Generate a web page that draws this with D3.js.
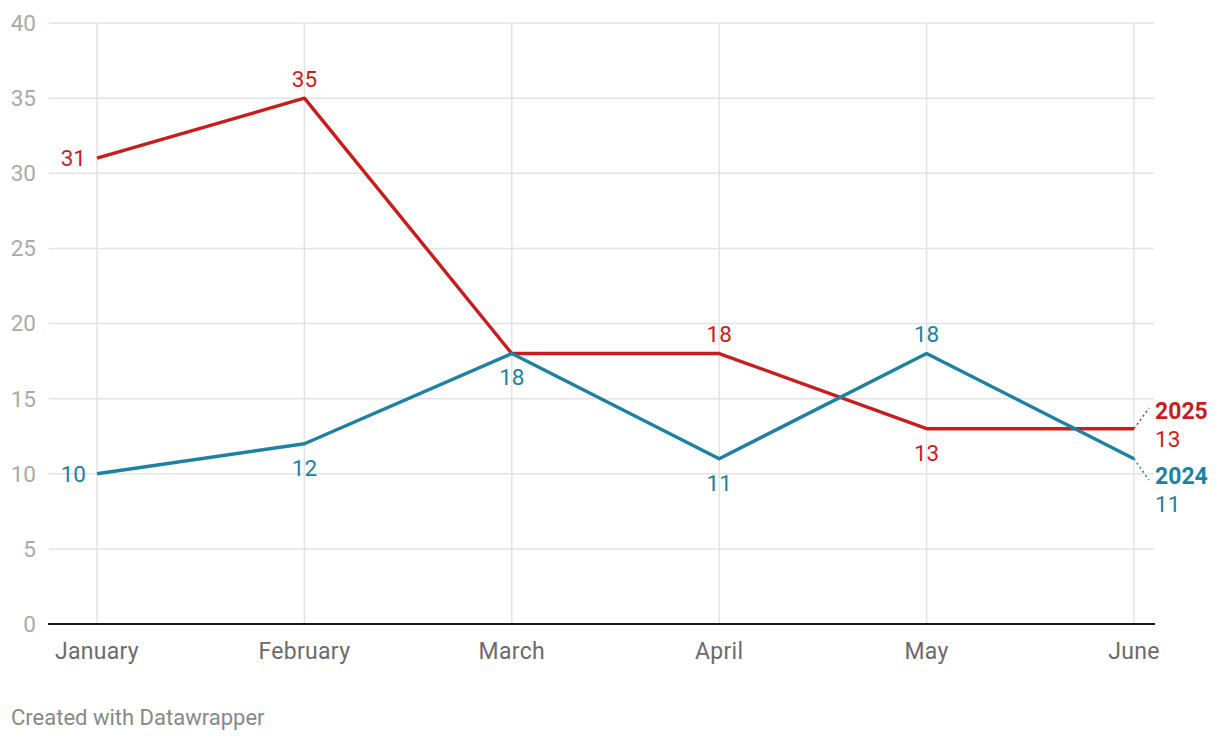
<!DOCTYPE html>
<html><head><meta charset="utf-8">
<script src="https://cdn.jsdelivr.net/npm/d3@7"></script>
<style>
body{margin:0;background:#fff;font-family:Roboto,"Noto Sans",sans-serif;}
</style></head>
<body><svg id="c" width="1220" height="740"></svg>
<script>
const months = ["January","February","March","April","May","June"];
const values2025 = [31,35,18,18,13,13];
const values2024 = [10,12,18,11,18,11];
const yTicks = [0,5,10,15,20,25,30,35,40];
// label placement per point: "l" left, "t" top, "b" bottom, null none
const pos2025 = ["l","t",null,"t","b",null];
const pos2024 = ["l","b","b","b","t",null];

const svg = d3.select("#c");
const x = d3.scalePoint().domain(months).range([97,1134]);
const y = d3.scaleLinear().domain([0,40]).range([624,23]);
const red = "#c71e1d", blue = "#1d81a2";

// horizontal grid
svg.append("g").selectAll("line").data(yTicks.filter(d=>d>0)).join("line")
  .attr("x1",49).attr("x2",1154).attr("y1",d=>y(d)).attr("y2",d=>y(d))
  .attr("stroke","#e3e3e3").attr("stroke-width",1.5);
// vertical grid
svg.append("g").selectAll("line").data(months).join("line")
  .attr("x1",d=>x(d)).attr("x2",d=>x(d)).attr("y1",y(40)).attr("y2",y(0))
  .attr("stroke","#e3e3e3").attr("stroke-width",1.5);
// y labels
svg.append("g").selectAll("text").data(yTicks).join("text")
  .attr("x",36).attr("y",d=>y(d)).attr("dy","0.35em").attr("text-anchor","end")
  .attr("font-size",22.5).attr("fill","#aaaaaa").text(d=>d);
// baseline
svg.append("line").attr("x1",48).attr("x2",1155).attr("y1",y(0)).attr("y2",y(0))
  .attr("stroke","#1a1a1a").attr("stroke-width",2);
// x labels
svg.append("g").selectAll("text").data(months).join("text")
  .attr("x",d=>x(d)).attr("y",651).attr("dy","0.35em").attr("text-anchor","middle")
  .attr("font-size",23).attr("letter-spacing","0.3px").attr("fill","#6b6b6b").text(d=>d);

const line = d3.line().x((d,i)=>x(months[i])).y(d=>y(d));
function series(vals,color,posArr){
  svg.append("path").datum(vals).attr("d",line).attr("fill","none")
    .attr("stroke",color).attr("stroke-width",3.4).attr("stroke-linejoin","round");
  vals.forEach((v,i)=>{
    const p = posArr[i]; if(!p) return;
    const t = svg.append("text").attr("fill",color).attr("font-size",22.5).attr("dy","0.35em").text(v);
    if(p==="l") t.attr("x",x(months[i])-11).attr("y",y(v)).attr("text-anchor","end");
    if(p==="t") t.attr("x",x(months[i])).attr("y",y(v)-19).attr("text-anchor","middle");
    if(p==="b") t.attr("x",x(months[i])).attr("y",y(v)+24).attr("text-anchor","middle");
  });
}
series(values2025,red,pos2025);
series(values2024,blue,pos2024);

// end labels with dotted connectors
function endLabel(vals,color,name,yName,yVal,ty){
  const last = vals[vals.length-1];
  const px = x(months[months.length-1]), py = y(last);
  svg.append("line").attr("x1",px).attr("y1",py).attr("x2",px+15).attr("y2",ty)
    .attr("stroke",color).attr("stroke-width",1.5).attr("stroke-dasharray","2,3");
  svg.append("text").attr("x",1155).attr("y",yName).attr("dy","0.35em")
    .attr("font-size",23).attr("font-weight","bold").attr("fill",color).text(name);
  svg.append("text").attr("x",1155).attr("y",yVal).attr("dy","0.35em")
    .attr("font-size",22.5).attr("fill",color).text(last);
}
endLabel(values2025,red,"2025",411,439,408);
endLabel(values2024,blue,"2024",476,504,480);

svg.append("text").attr("x",11).attr("y",717).attr("dy","0.35em")
  .attr("font-size",22).attr("fill","#888").text("Created with Datawrapper");
</script></body></html>
